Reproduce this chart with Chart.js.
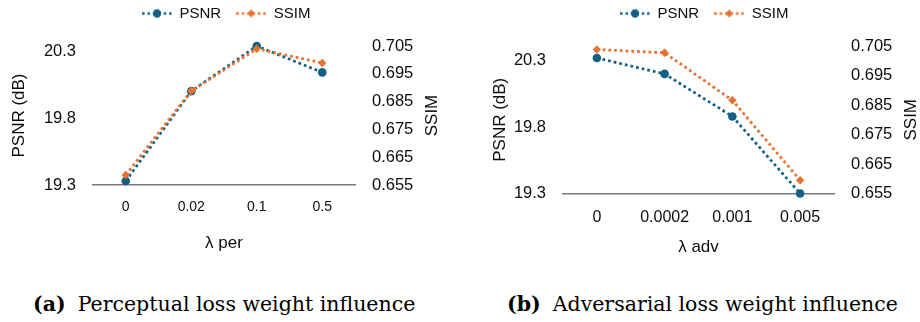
<!DOCTYPE html>
<html><head><meta charset="utf-8">
<script src="https://cdn.jsdelivr.net/npm/chart.js@4/dist/chart.umd.min.js"></script>
<style>
html,body{margin:0;padding:0;background:#fff;width:920px;height:322px;overflow:hidden;position:relative}
.wrap{position:absolute;top:-9px;width:460px;height:270px}
.cap{position:absolute;font-family:"DejaVu Serif",serif;font-size:20.5px;color:#000;white-space:nowrap;transform:translateY(-50%);line-height:1}
.cap b{font-weight:bold}
.cap span{margin-left:12px}
</style></head><body>
<div class="wrap" style="left:0"><canvas id="c1" width="460" height="270"></canvas></div>
<div class="wrap" style="left:460px"><canvas id="c2" width="460" height="270"></canvas></div>
<div class="cap" style="left:33px;top:304px"><b>(a)</b><span>Perceptual loss weight influence</span></div>
<div class="cap" style="left:507px;top:304px"><b>(b)</b><span>Adversarial loss weight influence</span></div>
<script>
// ---- data ----
const perCategories = ['0', '0.02', '0.1', '0.5'];
const perPsnr = [19.33, 20.00, 20.337, 20.14];
const perSsim = [0.6586, 0.6888, 0.7040, 0.6989];
const advCategories = ['0', '0.0002', '0.001', '0.005'];
const advPsnr = [20.32, 20.20, 19.88, 19.30];
const advSsim = [0.7038, 0.7027, 0.6866, 0.6595];
const psnrTicks = [19.3, 19.8, 20.3];
const ssimTicks = [0.655, 0.665, 0.675, 0.685, 0.695, 0.705];
const seriesNames = ['PSNR', 'SSIM'];
const leftAxisTitle = 'PSNR (dB)';
const rightAxisTitle = 'SSIM';
const perAxisTitle = 'λ per';
const advAxisTitle = 'λ adv';

const PSNR_COLOR = '#156082';
const SSIM_COLOR = '#E97132';
const TEXT_COLOR = '#0d0d0d';
const FONT = '"Liberation Sans", Arial, sans-serif';
Chart.defaults.font.family = FONT;
Chart.defaults.color = TEXT_COLOR;

function legendImg(color, style) {
  const c = document.createElement('canvas');
  c.width = 30; c.height = 12;
  const g = c.getContext('2d');
  g.strokeStyle = color; g.lineWidth = 2.6; g.setLineDash([2.6, 2.8]);
  g.beginPath(); g.moveTo(0, 6); g.lineTo(30, 6); g.stroke();
  g.setLineDash([]);
  g.fillStyle = color; g.beginPath();
  if (style === 'circle') g.arc(15, 6, 4.2, 0, Math.PI * 2);
  else { g.moveTo(15, 2); g.lineTo(19, 6); g.lineTo(15, 10); g.lineTo(11, 6); g.closePath(); }
  g.fill();
  return c;
}
const psnrLegend = legendImg(PSNR_COLOR, 'circle');
const ssimLegend = legendImg(SSIM_COLOR, 'diamond');

function makeChart(id, o) {
  const legendHeightPlugin = {
    id: 'legendHeight',
    beforeUpdate(chart) {
      const lg = chart.legend;
      if (lg && !lg._fitPatched) {
        const orig = lg.fit;
        lg.fit = function () { orig.call(this); this.height = o.chartTop; };
        lg._fitPatched = true;
      }
    }
  };
  const rightTitlePlugin = {
    id: 'rightTitle',
    afterDraw(chart) {
      const ca = chart.chartArea, ctx = chart.ctx;
      ctx.save();
      ctx.translate(o.rightTitleX, (ca.top + ca.bottom) / 2);
      ctx.rotate(-Math.PI / 2);
      ctx.font = '17px ' + FONT;
      ctx.fillStyle = TEXT_COLOR;
      ctx.textAlign = 'center';
      ctx.textBaseline = 'middle';
      ctx.fillText(rightAxisTitle, 0, 0);
      ctx.restore();
    }
  };
  return new Chart(document.getElementById(id), {
    type: 'line',
    data: {
      labels: o.labels,
      datasets: [
        { label: seriesNames[0], data: o.psnr, yAxisID: 'y', borderColor: PSNR_COLOR, backgroundColor: PSNR_COLOR,
          borderWidth: 2.75, borderDash: [2.75, 3], pointStyle: 'circle', pointRadius: 4.3, pointBorderWidth: 0,
          pointBackgroundColor: PSNR_COLOR, tension: 0, clip: false, order: 1 },
        { label: seriesNames[1], data: o.ssim, yAxisID: 'y2', borderColor: SSIM_COLOR, backgroundColor: SSIM_COLOR,
          borderWidth: 2.75, borderDash: [2.75, 3], pointStyle: 'rectRot', pointRadius: 4.2, pointBorderWidth: 0,
          pointBackgroundColor: SSIM_COLOR, tension: 0, clip: false, order: 0 }
      ]
    },
    options: {
      responsive: false, animation: false, devicePixelRatio: 1, events: [],
      layout: { padding: { top: 0, left: o.padL, right: o.padR, bottom: o.padB } },
      plugins: {
        tooltip: { enabled: false },
        legend: {
          display: true, position: 'top',
          labels: {
            usePointStyle: true, pointStyleWidth: 30, font: { size: 15 }, padding: 15, color: TEXT_COLOR,
            generateLabels: () => [
              { text: seriesNames[0], pointStyle: psnrLegend, fillStyle: PSNR_COLOR, strokeStyle: PSNR_COLOR, lineWidth: 0, hidden: false, datasetIndex: 0, fontColor: TEXT_COLOR },
              { text: seriesNames[1], pointStyle: ssimLegend, fillStyle: SSIM_COLOR, strokeStyle: SSIM_COLOR, lineWidth: 0, hidden: false, datasetIndex: 1, fontColor: TEXT_COLOR }
            ]
          }
        }
      },
      scales: {
        x: {
          type: 'category', offset: true,
          grid: { display: false, drawTicks: false },
          border: { display: true, color: '#7a7a7a', width: 1.5 },
          ticks: { font: { size: o.xTickFont }, padding: o.xTickPad, color: TEXT_COLOR, maxRotation: 0, autoSkip: false },
          title: { display: true, text: o.xTitle, font: { size: 17 }, color: TEXT_COLOR, padding: { top: 0, bottom: 0 } },
          afterFit(s) { s.height = o.xHeight; }
        },
        y: {
          position: 'left', min: 19.3, max: o.yMax,
          grid: { display: false, drawTicks: false }, border: { display: false },
          afterBuildTicks(s) { s.ticks = psnrTicks.map(v => ({ value: v })); },
          ticks: { font: { size: 16.5 }, padding: 17, color: TEXT_COLOR, callback: v => Number(v).toFixed(1) },
          title: { display: true, text: leftAxisTitle, font: { size: 17 }, color: TEXT_COLOR, padding: { top: o.yTitlePad, bottom: 0 } },
          afterFit(s) { s.width = o.yWidth; }
        },
        y2: {
          position: 'right', min: 0.655, max: 0.705,
          grid: { display: false, drawTicks: false }, border: { display: false },
          afterBuildTicks(s) { s.ticks = ssimTicks.map(v => ({ value: v })); },
          ticks: { font: { size: 16.5 }, padding: 17, color: TEXT_COLOR, callback: v => Number(v).toFixed(3) },
          afterFit(s) { s.width = o.y2Width; }
        }
      }
    },
    plugins: [legendHeightPlugin, rightTitlePlugin]
  });
}

makeChart('c1', {
  labels: perCategories, psnr: perPsnr, ssim: perSsim, xTitle: perAxisTitle, yMax: 20.337,
  chartTop: 55, padL: 0, padR: 7.6, padB: 7.8, yWidth: 93, y2Width: 97.4, yTitlePad: 8.8,
  xHeight: 68.2, xTickFont: 14, xTickPad: 13.6, rightTitleX: 432
});
makeChart('c2', {
  labels: advCategories, psnr: advPsnr, ssim: advSsim, xTitle: advAxisTitle, yMax: 20.41,
  chartTop: 55, padL: 28.4, padR: 0, padB: 3.8, yWidth: 74.6, y2Width: 86, yTitlePad: 1.4,
  xHeight: 63.7, xTickFont: 16, xTickPad: 14.9, rightTitleX: 451
});
</script>
</body></html>
